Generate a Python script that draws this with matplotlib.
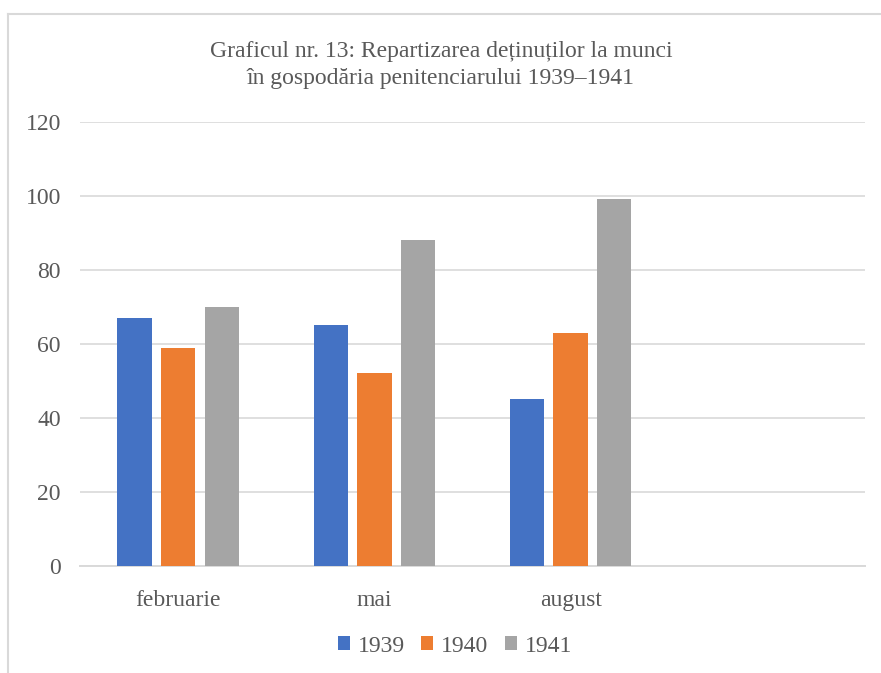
import matplotlib
matplotlib.use("Agg")
import matplotlib.pyplot as plt
from matplotlib.lines import Line2D
from matplotlib.patches import Patch
import numpy as np

months = ["februarie", "mai", "august", ""]
series_names = ["1939", "1940", "1941"]
values_1939 = [67, 65, 45]
values_1940 = [59, 52, 63]
values_1941 = [70, 88, 99]
colors = ["#4472C4", "#ED7D31", "#A5A5A5"]
y_ticks = [0, 20, 40, 60, 80, 100, 120]

title = "Graficul nr. 13: Repartizarea deținuților la munci\nîn gospodăria penitenciarului 1939–1941"

plt.rcParams["font.family"] = ["Liberation Serif", "DejaVu Serif"]
text_color = "#595959"
grid_color = "#D9D9D9"

fig = plt.figure(figsize=(8.81, 6.73), dpi=100)
ax = fig.add_axes([80 / 881, 107 / 673, 785 / 881, 444.3 / 673])

# chart frame (left and top edges visible in the reference)
fig.add_artist(Line2D([7.5 / 881, 7.5 / 881], [0, 1 - 14 / 673], color=grid_color, lw=1.5))
fig.add_artist(Line2D([7.5 / 881, 1.0], [1 - 14 / 673, 1 - 14 / 673], color=grid_color, lw=1.5))

step = 0.222
width = 0.175
x = np.arange(3)
for j, vals in enumerate([values_1939, values_1940, values_1941]):
    ax.bar(x + (j - 1) * step, vals, width=width, color=colors[j], zorder=3)

ax.set_xlim(-0.5, 3.5)
ax.set_ylim(0, 120)
ax.set_yticks(y_ticks)
ax.set_xticks(range(4))
ax.set_xticklabels(months)
ax.grid(axis="y", color=grid_color, lw=1.2, zorder=0)
ax.tick_params(axis="both", length=0, labelsize=17, colors=text_color)
ax.tick_params(axis="y", pad=13.7)
ax.tick_params(axis="x", pad=17)
for side in ["left", "right", "top"]:
    ax.spines[side].set_visible(False)
ax.spines["bottom"].set_color(grid_color)
ax.spines["bottom"].set_linewidth(1.4)

fig.text(441 / 881, 1 - 65 / 673, title, ha="center", va="center",
         fontsize=17, color=text_color, linespacing=1.4)

handles = [Patch(facecolor=c, edgecolor="none") for c in colors]
fig.legend(handles, series_names, loc="center", bbox_to_anchor=(455 / 881, 1 - 646 / 673),
           ncol=3, frameon=False, fontsize=17, labelcolor=text_color,
           handlelength=0.5, handleheight=0.5, handletextpad=0.34, columnspacing=0.7)

fig.savefig("out.png", dpi=100)
